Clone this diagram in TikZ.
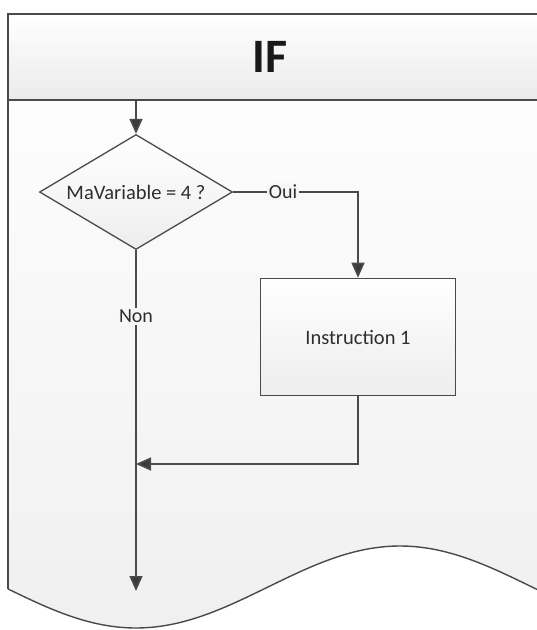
\documentclass[tikz,border=0pt]{standalone}
\usepackage{fontspec}
\setmainfont{Carlito}
\usetikzlibrary{shapes.geometric,arrows.meta}
\definecolor{edge}{HTML}{4A4A4A}
\definecolor{tipc}{HTML}{3A3A3A}
\definecolor{txt}{HTML}{2E2E2E}
\definecolor{paper}{HTML}{F7F7F7}
\begin{document}
\begin{tikzpicture}[x=1pt,y=-1pt,
  conn/.style={draw=edge,line width=1.6pt},
  arr/.style={conn,-{Triangle[length=15pt,width=13pt,fill=tipc]}},
  lbl/.style={fill=paper,inner sep=2pt,text=txt,font=\fontsize{20}{22}\selectfont},
  decbox/.style={shape=diamond,aspect=1.68,draw=edge,line width=1.3pt,inner sep=0pt,
    minimum width=193pt,minimum height=115pt,top color=white,bottom color=black!7,
    text=txt,font=\fontsize{20.5}{23}\selectfont},
  instbox/.style={shape=rectangle,draw=edge,line width=1.6pt,inner sep=0pt,
    minimum width=195pt,minimum height=117pt,top color=white,bottom color=black!7,
    text=txt,font=\fontsize{20.5}{23}\selectfont},
  titletext/.style={text=black!90,font=\fontsize{48}{50}\selectfont\bfseries}]
\useasboundingbox (0,0) rectangle (537,630);
\begin{scope}
  \clip (0,0) rectangle (537,630);
  % frame with wavy bottom
  \path[top color=white,bottom color=black!6]
    (8,14) -- (600,14) -- plot[domain=0:592,samples=120] ({600-\x},{587+41*cos(0.681818*(464-\x))}) -- cycle;
  \draw[draw=edge,line width=1.8pt]
    (600,14) -- (8,14) -- (8,{587+41*cos(0.681818*(-128))});
  \draw[draw=edge,line width=1.4pt]
    plot[domain=8:600,samples=120] (\x,{587+41*cos(0.681818*(\x-136))});
  % header
  \path[top color=white,bottom color=black!8] (8,14) rectangle (600,100);
  \draw[draw=edge,line width=1.8pt] (8,14) -- (600,14);
  \draw[draw=edge,line width=1.8pt] (8,14) -- (8,100);
  \draw[draw=edge,line width=1.8pt] (8,100) -- (600,100);
\end{scope}
\node[titletext] (title) at (270,57) {IF};
\node[decbox] (d) at (136,192) {MaVariable = 4 ?};
\node[instbox] (b) at (358,337) {Instruction 1};
\coordinate (start) at (136,100);
\coordinate (join) at (136,464);
\coordinate (finish) at (136,591);
\draw[arr] (start) -- (d.north);
\draw[arr] (d.east) -- node[lbl,pos=0.4]{Oui} (b.north |- d.east) -- (b.north);
\draw[arr] (d.south) -- node[lbl,pos=0.195]{Non} (finish);
\draw[arr] (b.south) -- (b.south |- join) -- (join);
\end{tikzpicture}
\end{document}
